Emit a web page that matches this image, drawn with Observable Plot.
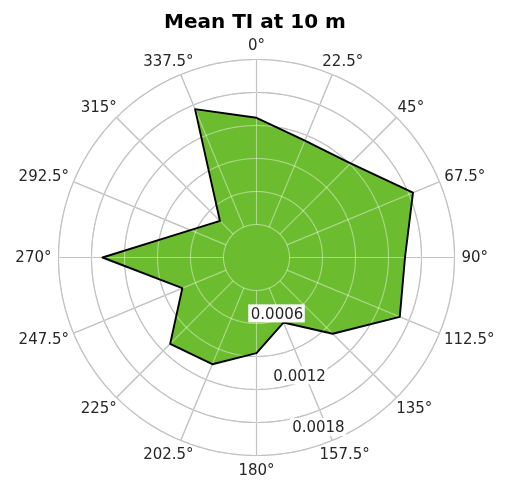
<!DOCTYPE html>
<html><head><meta charset="utf-8">
<script src="https://cdn.jsdelivr.net/npm/d3@7"></script>
<script src="https://cdn.jsdelivr.net/npm/@observablehq/plot@0.6"></script>
<style>
body{margin:0;background:#fff;}
#title{width:506px;height:34px;box-sizing:border-box;padding-top:11px;padding-left:4px;text-align:center;font:bold 20px/20px "DejaVu Sans";color:#000;}
#chart svg{display:block;background:#fff;}
</style></head><body>
<div id="title">Mean TI at 10 m</div>
<div id="chart"></div>
<script>
// ---- data ----
const directions = [0, 22.5, 45, 67.5, 90, 112.5, 135, 157.5, 180, 202.5, 225, 247.5, 270, 292.5, 315, 337.5];
const meanTI = [0.00127, 0.00115, 0.00121, 0.00154, 0.00135, 0.00141, 0.00098, 0.00064, 0.00087, 0.00105, 0.00111, 0.00073, 0.00140, 0.00065, 0.00047, 0.00146];
const ringValues = [0.0003, 0.0006, 0.0009, 0.0012, 0.0015, 0.0018];
const radialTickValues = [0.0006, 0.0012, 0.0018];
const radialTickLabels = ["0.0006", "0.0012", "0.0018"];
const angleLabels = directions.map(d => d + "°");

// ---- layout ----
const W = 506, H = 453, CX = 256, CY = 223, RPX = 198, RMAX = 0.0018;
const k = RMAX / RPX;
const rad = a => a * Math.PI / 180;
const pol = (r, a) => ({x: r * Math.sin(rad(a)), y: r * Math.cos(rad(a))});

const poly = directions.map((d, i) => ({dir: d, ...pol(meanTI[i], d)}));
const ringPts = ringValues.flatMap((r, j) => d3.range(0, 360, 1).map(a => ({ring: j, ...pol(r, a)})));

const ctx = document.createElement("canvas").getContext("2d");
ctx.font = '15px "DejaVu Sans"';

const gridDark = "#949494", gridScreen = "#6e6e6e", green = "#6cbc30";
const spokeOpts = c => ({
  x1: d => pol(ringValues[0], d).x, y1: d => pol(ringValues[0], d).y,
  x2: d => pol(RMAX, d).x, y2: d => pol(RMAX, d).y,
  stroke: c, strokeWidth: 1.1
});

const angleMarks = directions.map((d, i) => {
  const w = ctx.measureText(angleLabels[i]).width;
  const s = Math.sin(rad(d)), c = Math.cos(rad(d));
  const r = RMAX + 7 * k;
  return Plot.text([d], {
    x: a => pol(r, a).x, y: a => pol(r, a).y, text: () => angleLabels[i],
    dx: s * w / 2, dy: -c * 7.5, fontSize: 15, fontFamily: "DejaVu Sans", fill: "#262626"
  });
});

const labR = v => Math.min(v, RMAX - 0.0001) - 6 * k;
const labPos = v => pol(labR(v), 160);
const labHalfW = i => (ctx.measureText(radialTickLabels[i]).width / 2 + 2) * k;
const labHalfH = 9 * k;

const chart = Plot.plot({
  width: W, height: H, margin: 0,
  x: {domain: [-CX * k, (W - CX) * k], axis: null},
  y: {domain: [-(H - CY) * k, CY * k], axis: null},
  marks: [
    Plot.line(ringPts, {x: "x", y: "y", z: "ring", stroke: gridDark, strokeWidth: 1.1, curve: "linear-closed"}),
    Plot.link(directions, spokeOpts(gridDark)),
    Plot.line(poly, {x: "x", y: "y", fill: green, stroke: "none", curve: "linear-closed"}),
    Plot.line(ringPts, {x: "x", y: "y", z: "ring", stroke: gridScreen, strokeWidth: 1.1, curve: "linear-closed", mixBlendMode: "screen"}),
    Plot.link(directions, {...spokeOpts(gridScreen), mixBlendMode: "screen"}),
    Plot.line(poly, {x: "x", y: "y", stroke: "#000", strokeWidth: 1.9, curve: "linear-closed"}),
    ...angleMarks,
    Plot.rect(radialTickValues, {
      x1: (v, i) => labPos(v).x - labHalfW(i), x2: (v, i) => labPos(v).x + labHalfW(i),
      y1: v => labPos(v).y - labHalfH, y2: v => labPos(v).y + labHalfH,
      fill: "white"
    }),
    Plot.text(radialTickValues, {
      x: v => labPos(v).x, y: v => labPos(v).y,
      text: (v, i) => radialTickLabels[i],
      fontSize: 15, fontFamily: "DejaVu Sans", fill: "#262626"
    })
  ]
});
document.getElementById("chart").appendChild(chart);
</script>
</body></html>
